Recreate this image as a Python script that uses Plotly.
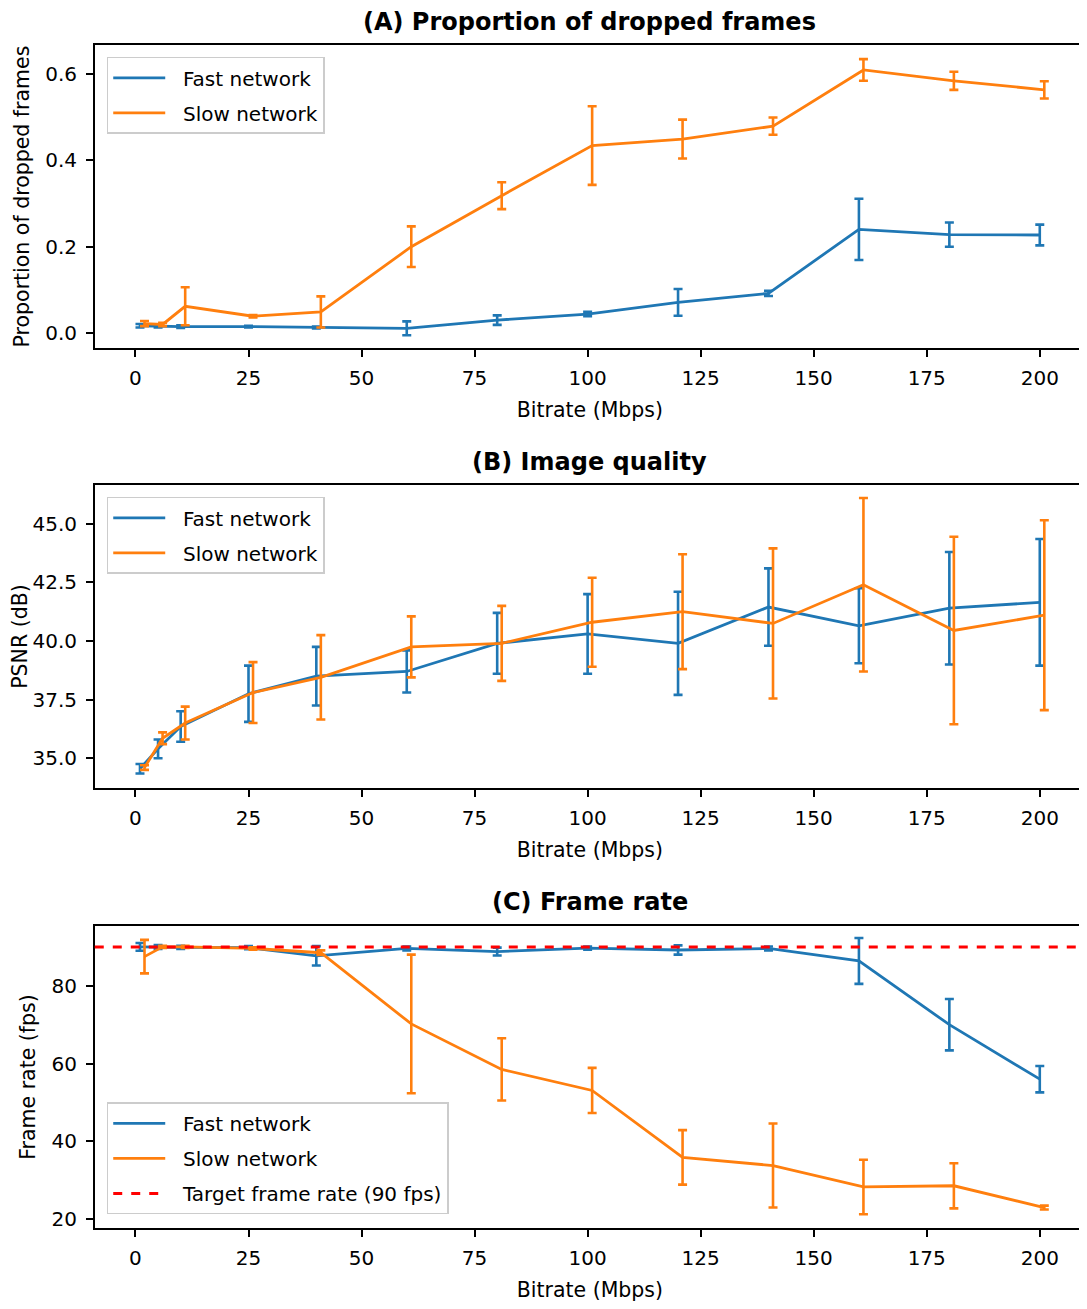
import plotly.graph_objects as go

# ---------------- data ----------------
bitrate_fast = [1, 5, 10, 25, 40, 60, 80, 100, 120, 140, 160, 180, 200]
bitrate_slow = [2, 6, 11, 26, 41, 61, 81, 101, 121, 141, 161, 181, 201]

drop_fast = [0.017, 0.016, 0.015, 0.015, 0.013, 0.011, 0.030, 0.044, 0.071, 0.092, 0.240, 0.228, 0.227]
drop_fast_err = [0.004, 0.003, 0.003, 0.002, 0.002, 0.016, 0.011, 0.005, 0.031, 0.006, 0.071, 0.028, 0.024]
drop_slow = [0.022, 0.020, 0.062, 0.039, 0.049, 0.200, 0.318, 0.434, 0.449, 0.479, 0.609, 0.584, 0.563]
drop_slow_err = [0.006, 0.004, 0.044, 0.003, 0.036, 0.047, 0.031, 0.091, 0.045, 0.020, 0.025, 0.021, 0.020]

psnr_fast = [34.55, 35.40, 36.35, 37.75, 38.50, 38.70, 39.90, 40.30, 39.90, 41.45, 40.65, 41.40, 41.65]
psnr_fast_err = [0.20, 0.40, 0.65, 1.20, 1.25, 0.90, 1.30, 1.70, 2.20, 1.65, 1.60, 2.40, 2.70]
psnr_slow = [34.60, 35.85, 36.50, 37.80, 38.45, 39.75, 39.90, 40.80, 41.25, 40.75, 42.40, 40.45, 41.10]
psnr_slow_err = [0.10, 0.25, 0.70, 1.30, 1.80, 1.30, 1.60, 1.90, 2.45, 3.20, 3.70, 4.00, 4.05]

fps_fast = [90.0, 90.0, 89.9, 89.8, 87.7, 89.6, 88.8, 89.7, 89.2, 89.6, 86.4, 70.0, 56.0]
fps_fast_err = [1.0, 0.5, 0.4, 0.4, 2.5, 0.5, 1.0, 0.4, 1.2, 0.5, 5.9, 6.6, 3.4]
fps_slow = [87.5, 90.0, 90.0, 89.6, 88.5, 70.2, 58.5, 53.1, 35.9, 33.8, 28.3, 28.6, 23.0]
fps_slow_err = [4.3, 0.3, 0.3, 0.3, 0.6, 17.8, 8.0, 5.8, 7.0, 10.8, 7.0, 5.8, 0.5]

target_fps = 90

x_ticks = [0, 25, 50, 75, 100, 125, 150, 175, 200]
drop_ticks = [0.0, 0.2, 0.4, 0.6]
psnr_ticks = [35.0, 37.5, 40.0, 42.5, 45.0]
fps_ticks = [20, 40, 60, 80]

titles = ["(A) Proportion of dropped frames", "(B) Image quality", "(C) Frame rate"]
ylabels = ["Proportion of dropped frames", "PSNR (dB)", "Frame rate (fps)"]
xlabel = "Bitrate (Mbps)"
series_names = ["Fast network", "Slow network"]
target_name = "Target frame rate (90 fps)"

# ---------------- style ----------------
BLUE = "#1f77b4"
ORANGE = "#ff7f0e"
FONT = "DejaVu Sans"
OFF = 8  # page body margin
W, H = 1087 - OFF, 1309 - OFF
PAD = "\u00a0\u00a0"  # gap between legend line sample and text

def py(px):
    return 1 - (px - OFF) / H

def pxx(px):
    return (px - OFF) / W

x_dom = [pxx(93), pxx(1086)]
y_doms = [[py(349), py(45)], [py(790), py(486)], [py(1231), py(928)]]
y_ranges = [[-0.035, 0.667], [33.72, 46.66], [17.7, 95.4]]
y_ticks = [drop_ticks, psnr_ticks, fps_ticks]
y_fmt = [".1f", ".1f", "d"]

fig = go.Figure()

panels = [
    (drop_fast, drop_fast_err, drop_slow, drop_slow_err),
    (psnr_fast, psnr_fast_err, psnr_slow, psnr_slow_err),
    (fps_fast, fps_fast_err, fps_slow, fps_slow_err),
]
legend_names = ["legend", "legend2", "legend3"]

for i, (yf, ef, ys, es) in enumerate(panels):
    xa = "x" if i == 0 else f"x{i+1}"
    ya = "y" if i == 0 else f"y{i+1}"
    for name, xs, yv, ev, col, grp in [
        (series_names[0], bitrate_fast, yf, ef, BLUE, "f"),
        (series_names[1], bitrate_slow, ys, es, ORANGE, "s"),
    ]:
        fig.add_trace(go.Scatter(
            x=xs, y=yv, mode="lines", name=PAD + name,
            line=dict(color=col, width=2.8),
            error_y=dict(type="data", array=ev, visible=True, color=col,
                         thickness=2.6, width=4.5),
            xaxis=xa, yaxis=ya, legend=legend_names[i],
            legendgroup=f"{grp}{i}",
        ))

# target frame rate line
fig.add_shape(type="line", xref="x3 domain", yref="y3", x0=0, x1=1,
              y0=target_fps, y1=target_fps,
              line=dict(color="#ff0000", width=3, dash="dash"))
fig.add_trace(go.Scatter(
    x=[None], y=[None], mode="lines", name=PAD + target_name,
    line=dict(color="#ff0000", width=3, dash="dash"),
    xaxis="x3", yaxis="y3", legend="legend3", legendgroup="t2",
))

layout = dict(
    width=W, height=H,
    margin=dict(l=0, r=0, t=0, b=0),
    paper_bgcolor="white", plot_bgcolor="white",
    font=dict(family=FONT, size=20, color="black"),
    showlegend=True,
)

axis_common = dict(showline=True, linecolor="black", linewidth=1.5, mirror=True,
                   ticks="outside", ticklen=7, tickwidth=1.5, tickcolor="black",
                   showgrid=False, zeroline=False,
                   tickfont=dict(family=FONT, size=20, color="black"))

for i in range(3):
    xk = "xaxis" if i == 0 else f"xaxis{i+1}"
    yk = "yaxis" if i == 0 else f"yaxis{i+1}"
    layout[xk] = dict(axis_common, domain=x_dom, range=[-9, 210],
                      tickvals=x_ticks, anchor="y" if i == 0 else f"y{i+1}",
                      ticklabelstandoff=4,
                      title=dict(text=xlabel, standoff=14,
                                 font=dict(family=FONT, size=20.5)))
    layout[yk] = dict(axis_common, domain=y_doms[i], range=y_ranges[i],
                      tickvals=y_ticks[i], tickformat=y_fmt[i],
                      anchor="x" if i == 0 else f"x{i+1}",
                      ticklabelstandoff=5,
                      title=dict(text=ylabels[i], standoff=10,
                                 font=dict(family=FONT, size=20.5)))

leg_common = dict(bgcolor="rgba(255,255,255,0.8)", bordercolor="#cccccc",
                  borderwidth=1.5, xanchor="left", yanchor="top",
                  font=dict(family=FONT, size=20), traceorder="grouped",
                  tracegroupgap=6, itemwidth=52)
layout["legend"] = dict(leg_common, x=pxx(105), y=py(57))
layout["legend2"] = dict(leg_common, x=pxx(105), y=py(498))
layout["legend3"] = dict(leg_common, x=pxx(105), y=py(1105))

title_tops = [22, 463, 904]
layout["annotations"] = [
    dict(text=f"<b>{t}</b>", xref="paper", yref="paper",
         x=(x_dom[0] + x_dom[1]) / 2, y=py(ty), xanchor="center", yanchor="middle",
         showarrow=False, font=dict(family=FONT, size=24, color="black"))
    for t, ty in zip(titles, title_tops)
]

fig.update_layout(**layout)
fig.write_html("out.html")
